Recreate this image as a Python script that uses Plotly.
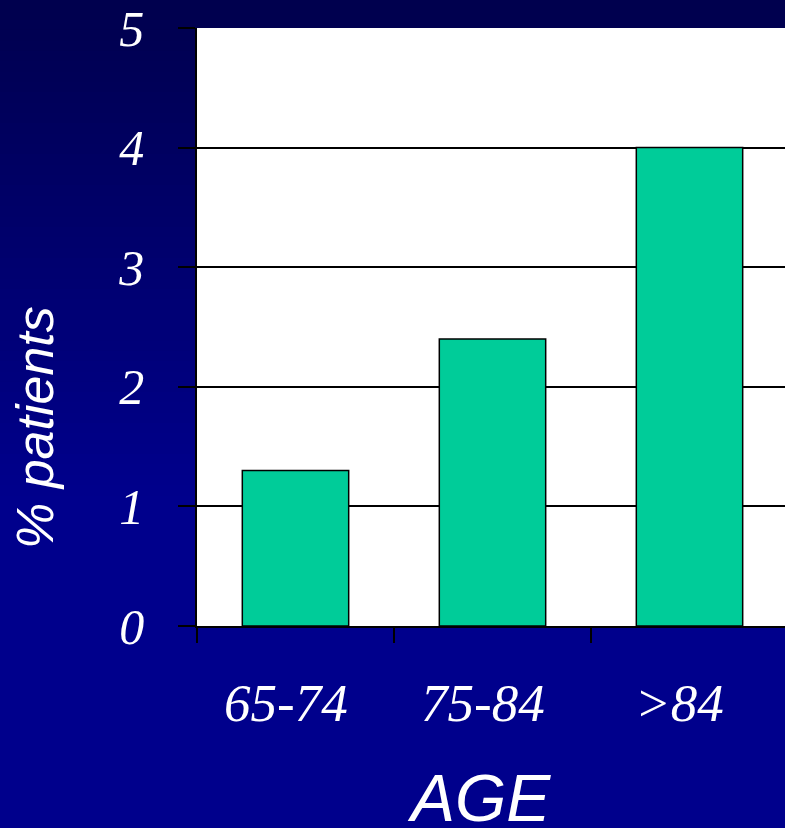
import plotly.graph_objects as go

categories = ["65-74", "75-84", ">84"]
values = [1.3, 2.4, 4.0]
y_ticks = [0, 1, 2, 3, 4, 5]

W, H = 785, 828
ML, MT, MB, MR = 197, 28, 202, 0
pw = W - ML - MR
ph = H - MT - MB
cat_px = 197.0

fig = go.Figure()
fig.add_trace(go.Bar(
    x=categories, y=values, width=0.54,
    marker=dict(color="#00CC99", line=dict(color="black", width=1.5)),
    hoverinfo="skip",
))

# gradient background via stripes in paper coords
shapes = []
n = 80
top = (0x00, 0x00, 0x4E)
bot = (0x00, 0x00, 0x8C)
y0p = -MB / ph
y1p = 1 + MT / ph
x0p = -ML / pw
x1p = 1 + 5 / pw
for i in range(n):
    t = i / (n - 1)
    ya = y1p - (y1p - y0p) * i / n
    yb = y1p - (y1p - y0p) * (i + 1) / n
    f = min(1.0, t / 0.6)
    c = tuple(int(round(top[k] + (bot[k] - top[k]) * f)) for k in range(3))
    shapes.append(dict(type="rect", xref="paper", yref="paper",
                       x0=x0p, x1=x1p, y0=yb, y1=ya + 0.002,
                       fillcolor="rgb(%d,%d,%d)" % c, line=dict(width=0),
                       layer="below"))
shapes.append(dict(type="rect", xref="paper", yref="paper", x0=0, x1=1.01, y0=0, y1=1,
                   fillcolor="white", line=dict(width=0), layer="below"))

serif = "Liberation Serif, Times New Roman, serif"
xtickfont = dict(family=serif, size=53, color="white", style="italic")
ytickfont = dict(family=serif, size=50, color="white", style="italic")

annotations = [
    dict(text=c, x=c, xref="x", yref="paper", y=-(703 - 626) / ph,
         xshift=-10, showarrow=False, xanchor="center", yanchor="middle",
         font=xtickfont)
    for c in categories
]
annotations += [
    dict(text="% patients", xref="paper", yref="paper",
         x=-162 / pw, y=(626 - 428) / ph, textangle=-90,
         showarrow=False, xanchor="center", yanchor="middle",
         font=dict(family="Liberation Sans, Arial, sans-serif", size=52,
                   color="white", style="italic")),
    dict(text="AGE", xref="paper", yref="paper",
         x=(479 - ML) / pw, y=-(798 - 626) / ph,
         showarrow=False, xanchor="center", yanchor="middle",
         font=dict(family="Liberation Sans, Arial, sans-serif", size=66,
                   color="white", style="italic")),
]

fig.update_layout(
    width=W, height=H,
    margin=dict(l=ML, r=MR, t=MT, b=MB, pad=0),
    paper_bgcolor="#00006E", plot_bgcolor="white",
    showlegend=False, bargap=0.46,
    shapes=shapes,
    xaxis=dict(range=[-0.5, -0.5 + pw / cat_px], tickson="boundaries",
               ticks="outside", ticklen=15, tickwidth=1.5, tickcolor="black",
               showline=True, linecolor="black", linewidth=1.5,
               showgrid=False, showticklabels=False,
               fixedrange=True),
    yaxis=dict(range=[0, 5], tickvals=y_ticks, ticks="outside", ticklen=17,
               tickwidth=1.5, tickcolor="black",
               showline=True, linecolor="black", linewidth=1.5,
               showgrid=True, gridcolor="black", gridwidth=1.5,
               zeroline=False, tickfont=ytickfont, ticklabelstandoff=24,
               fixedrange=True),
    annotations=annotations,
)

fig.write_html("out.html")
